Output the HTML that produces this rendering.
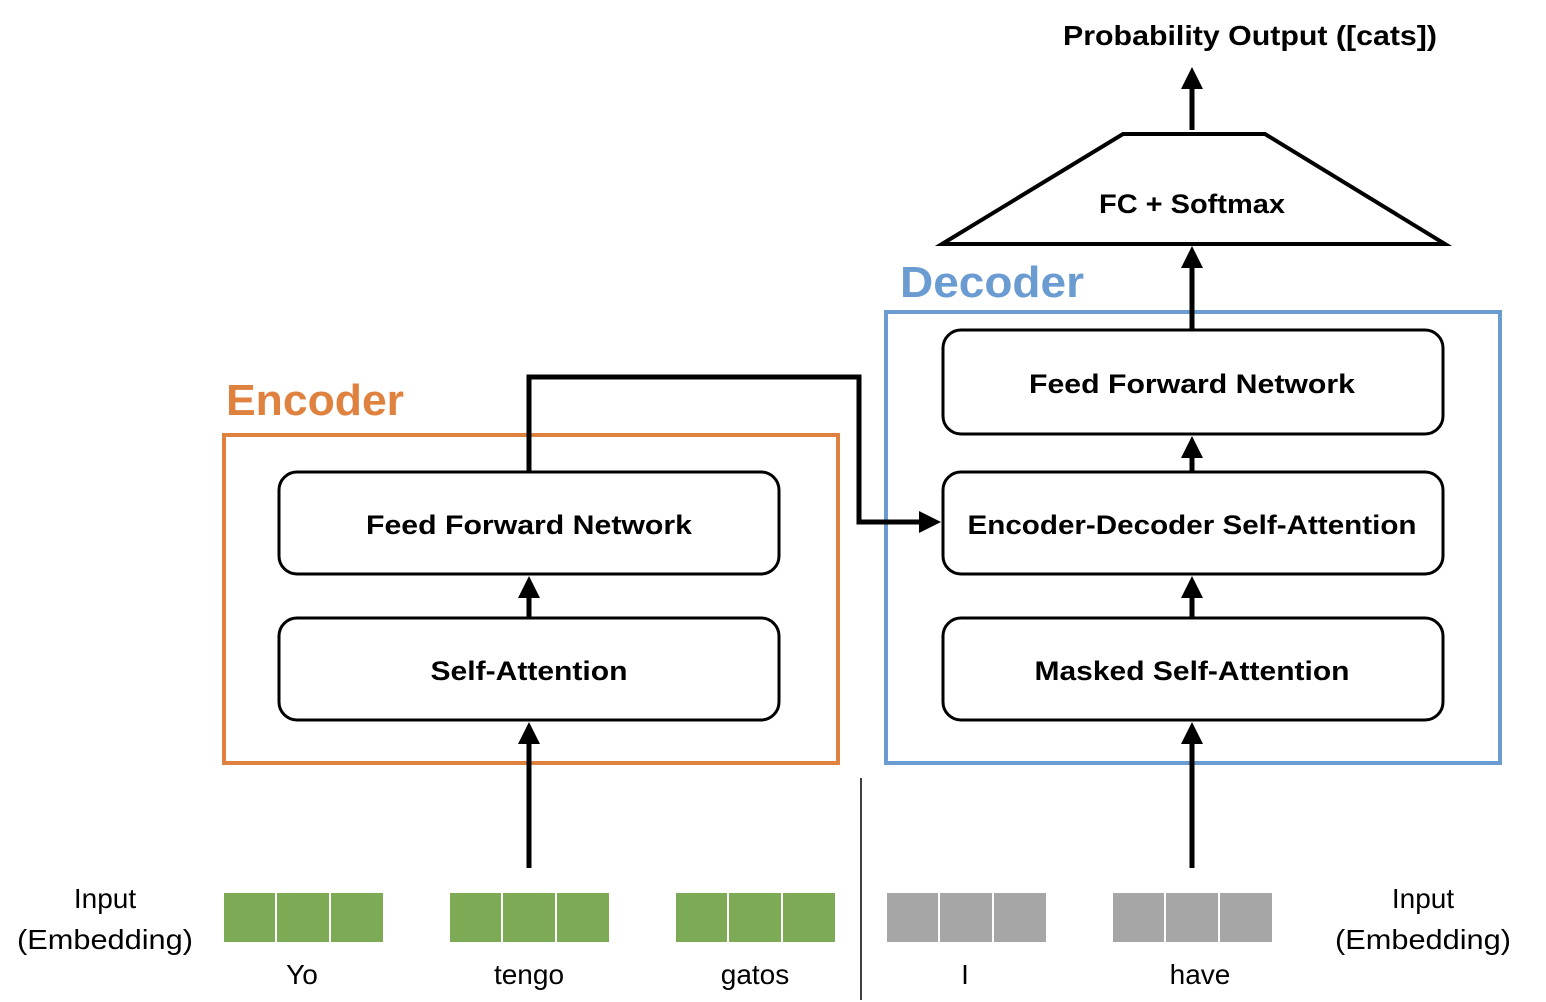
<!DOCTYPE html>
<html><head><meta charset="utf-8"><style>
html,body{margin:0;padding:0;background:#fff;}
svg{display:block;font-family:"Liberation Sans",sans-serif;}
</style></head><body>
<svg width="1546" height="1002" viewBox="0 0 1546 1002" xmlns="http://www.w3.org/2000/svg">
<defs>
<marker id="ah" markerWidth="4.4" markerHeight="4.4" refX="2.2" refY="2.2" orient="auto" markerUnits="strokeWidth">
<path d="M0,0 L4.4,2.2 L0,4.4 Z" fill="#000"/>
</marker>
</defs>
<rect width="1546" height="1002" fill="#fff"/>
<text x="1250" y="45" text-anchor="middle" font-size="28" font-weight="bold" textLength="374" lengthAdjust="spacingAndGlyphs">Probability Output ([cats])</text>
<!-- Encoder -->
<rect x="224" y="435" width="614" height="328" fill="none" stroke="#E0823F" stroke-width="4"/>
<text x="226" y="415" font-size="44" font-weight="bold" fill="#E0823F" textLength="178" lengthAdjust="spacingAndGlyphs">Encoder</text>
<rect x="279" y="472" width="500" height="102" rx="18" fill="#fff" stroke="#000" stroke-width="3"/>
<text x="529" y="534" text-anchor="middle" font-size="27" font-weight="bold" textLength="326" lengthAdjust="spacingAndGlyphs">Feed Forward Network</text>
<rect x="279" y="618" width="500" height="102" rx="18" fill="#fff" stroke="#000" stroke-width="3"/>
<text x="529" y="680" text-anchor="middle" font-size="27" font-weight="bold" textLength="197" lengthAdjust="spacingAndGlyphs">Self-Attention</text>
<!-- Decoder -->
<rect x="886" y="312" width="614" height="451" fill="none" stroke="#6A9BD1" stroke-width="4"/>
<text x="900" y="297" font-size="44" font-weight="bold" fill="#6A9BD1" textLength="184" lengthAdjust="spacingAndGlyphs">Decoder</text>
<rect x="943" y="330" width="500" height="104" rx="18" fill="#fff" stroke="#000" stroke-width="3"/>
<text x="1192" y="393" text-anchor="middle" font-size="27" font-weight="bold" textLength="326" lengthAdjust="spacingAndGlyphs">Feed Forward Network</text>
<rect x="943" y="472" width="500" height="102" rx="18" fill="#fff" stroke="#000" stroke-width="3"/>
<text x="1192" y="534" text-anchor="middle" font-size="27" font-weight="bold" textLength="449" lengthAdjust="spacingAndGlyphs">Encoder-Decoder Self-Attention</text>
<rect x="943" y="618" width="500" height="102" rx="18" fill="#fff" stroke="#000" stroke-width="3"/>
<text x="1192" y="680" text-anchor="middle" font-size="27" font-weight="bold" textLength="315" lengthAdjust="spacingAndGlyphs">Masked Self-Attention</text>
<!-- trapezoid -->
<polygon points="1123,134 1265,134 1445,244 942,244" fill="#fff" stroke="#000" stroke-width="4"/>
<text x="1192" y="213" text-anchor="middle" font-size="27" font-weight="bold" textLength="186" lengthAdjust="spacingAndGlyphs">FC + Softmax</text>
<!-- arrows -->
<g stroke="#000" stroke-width="5" fill="none">
<line x1="529" y1="868" x2="529" y2="733" marker-end="url(#ah)"/>
<line x1="529" y1="618" x2="529" y2="587" marker-end="url(#ah)"/>
<polyline points="529,472 529,377 859,377 859,522 930,522" marker-end="url(#ah)"/>
<line x1="1192" y1="868" x2="1192" y2="733" marker-end="url(#ah)"/>
<line x1="1192" y1="618" x2="1192" y2="587" marker-end="url(#ah)"/>
<line x1="1192" y1="472" x2="1192" y2="447" marker-end="url(#ah)"/>
<line x1="1192" y1="330" x2="1192" y2="257" marker-end="url(#ah)"/>
<line x1="1192" y1="130" x2="1192" y2="78" marker-end="url(#ah)"/>
</g>
<line x1="861" y1="778" x2="861" y2="1000" stroke="#000" stroke-width="1.5"/>
<!-- embeddings -->
<g fill="#7DAB55" stroke="#fff" stroke-width="2">
<rect x="223" y="892" width="53" height="51"/><rect x="276" y="892" width="54" height="51"/><rect x="330" y="892" width="54" height="51"/>
<rect x="449" y="892" width="53" height="51"/><rect x="502" y="892" width="54" height="51"/><rect x="556" y="892" width="54" height="51"/>
<rect x="675" y="892" width="53" height="51"/><rect x="728" y="892" width="54" height="51"/><rect x="782" y="892" width="54" height="51"/>
</g>
<g fill="#A6A6A6" stroke="#fff" stroke-width="2">
<rect x="886" y="892" width="53" height="51"/><rect x="939" y="892" width="54" height="51"/><rect x="993" y="892" width="54" height="51"/>
<rect x="1112" y="892" width="53" height="51"/><rect x="1165" y="892" width="54" height="51"/><rect x="1219" y="892" width="54" height="51"/>
</g>
<g font-size="28" text-anchor="middle">
<text x="302" y="984">Yo</text>
<text x="529" y="984">tengo</text>
<text x="755" y="984">gatos</text>
<text x="965" y="984">I</text>
<text x="1200" y="984">have</text>
<text x="105" y="908">Input</text>
<text x="105" y="949" textLength="176" lengthAdjust="spacingAndGlyphs">(Embedding)</text>
<text x="1423" y="908">Input</text>
<text x="1423" y="949" textLength="176" lengthAdjust="spacingAndGlyphs">(Embedding)</text>
</g>
</svg>
</body></html>
